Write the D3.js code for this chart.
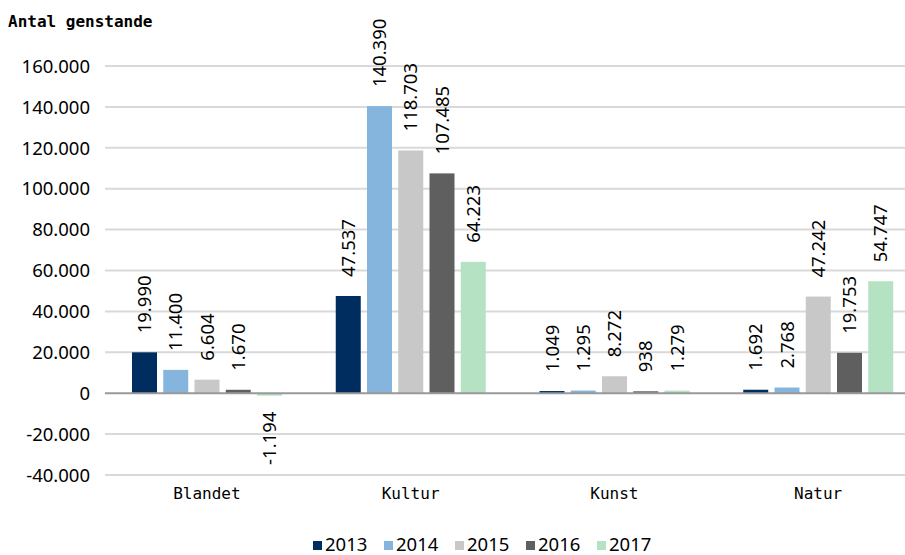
<!DOCTYPE html>
<html>
<head>
<meta charset="utf-8">
<script src="https://cdn.jsdelivr.net/npm/d3@7"></script>
<style>
  html, body { margin: 0; padding: 0; background: #fff; }
  svg { display: block; }
</style>
</head>
<body>
<svg id="chart" width="905" height="555"></svg>
<script>
// Antal genstande fordelt på samlingstype og år
const categories = ["Blandet", "Kultur", "Kunst", "Natur"];
const years = ["2013", "2014", "2015", "2016", "2017"];
const values2013 = [19990, 47537, 1049, 1692];
const values2014 = [11400, 140390, 1295, 2768];
const values2015 = [6604, 118703, 8272, 47242];
const values2016 = [1670, 107485, 938, 19753];
const values2017 = [-1194, 64223, 1279, 54747];
const yTicks = [-40000, -20000, 0, 20000, 40000, 60000, 80000, 100000, 120000, 140000, 160000];
const colors = ["#002d5f", "#85b5dc", "#c8c8c8", "#5f5f5f", "#b5e2c2"];

const seriesValues = [values2013, values2014, values2015, values2016, values2017];
const rows = [];
categories.forEach((c, ci) => {
  years.forEach((yr, yi) => rows.push({ category: c, year: yr, value: seriesValues[yi][ci] }));
});

const da = d3.formatLocale({ decimal: ",", thousands: ".", grouping: [3], currency: ["", " kr."], minus: "-" });
const fmt = da.format(",d");

const svg = d3.select("#chart");
const plotLeft = 105, plotRight = 920, plotTop = 66, plotBottom = 475;

const x0 = d3.scaleBand().domain(categories).range([plotLeft, plotRight]);
const x1 = d3.scaleBand().domain(years).range([27, 177]).paddingInner(0.2);
const y = d3.scaleLinear().domain([-40000, 160000]).range([plotBottom, plotTop]);
const color = d3.scaleOrdinal().domain(years).range(colors);

const sansFont = "'Noto Sans', 'Open Sans', sans-serif";
const monoFont = "'DejaVu Sans Mono', monospace";
const sansSize = 18.5;

// Title
svg.append("text")
  .attr("x", 8).attr("y", 27)
  .attr("font-family", monoFont).attr("font-weight", "bold")
  .attr("font-size", 16).attr("fill", "#000")
  .text("Antal genstande");

// Y tick labels
const yAxis = d3.axisLeft(y).tickValues(yTicks).tickSize(0).tickPadding(0).tickFormat(fmt);
const gy = svg.append("g").attr("transform", "translate(90,0)").call(yAxis);
gy.select(".domain").remove();
gy.selectAll("text")
  .attr("font-family", sansFont).attr("font-size", sansSize).attr("fill", "#000")
  .attr("dy", "0.34em");

// Gridlines
svg.append("g").selectAll("line")
  .data(yTicks.filter(t => t !== 0))
  .join("line")
  .attr("x1", plotLeft).attr("x2", plotRight)
  .attr("y1", d => y(d)).attr("y2", d => y(d))
  .attr("stroke", "#d9d9d9").attr("stroke-width", 2);

// Bars
svg.append("g").selectAll("rect")
  .data(rows)
  .join("rect")
  .attr("x", d => x0(d.category) + x1(d.year))
  .attr("width", x1.bandwidth())
  .attr("y", d => y(Math.max(0, d.value)))
  .attr("height", d => Math.abs(y(d.value) - y(0)))
  .attr("fill", d => color(d.year));

// Zero line
svg.append("line")
  .attr("x1", plotLeft).attr("x2", plotRight)
  .attr("y1", y(0)).attr("y2", y(0))
  .attr("stroke", "#999").attr("stroke-width", 2);

// Value labels, rotated
svg.append("g").selectAll("text")
  .data(rows)
  .join("text")
  .attr("transform", d => {
    const cx = x0(d.category) + x1(d.year) + x1.bandwidth() / 2;
    const cy = d.value >= 0 ? y(d.value) - 19 : y(d.value) + 16;
    return `translate(${cx},${cy}) rotate(-90)`;
  })
  .attr("text-anchor", d => d.value >= 0 ? "start" : "end")
  .attr("dy", "0.36em")
  .attr("font-family", sansFont).attr("font-size", sansSize).attr("fill", "#000")
  .text(d => fmt(d.value));

// Category labels
svg.append("g").selectAll("text")
  .data(categories)
  .join("text")
  .attr("x", d => x0(d) + x0.bandwidth() / 2)
  .attr("y", 499)
  .attr("text-anchor", "middle")
  .attr("font-family", monoFont).attr("font-size", 16).attr("fill", "#000")
  .text(d => d);

// Legend
const legend = svg.append("g").selectAll("g")
  .data(years)
  .join("g")
  .attr("transform", (d, i) => `translate(${313 + i * 71},0)`);
legend.append("rect")
  .attr("x", 0).attr("y", 541).attr("width", 9).attr("height", 9)
  .attr("fill", d => color(d));
legend.append("text")
  .attr("x", 12).attr("y", 551)
  .attr("font-family", sansFont).attr("font-size", sansSize).attr("fill", "#000")
  .text(d => d);
</script>
</body>
</html>
